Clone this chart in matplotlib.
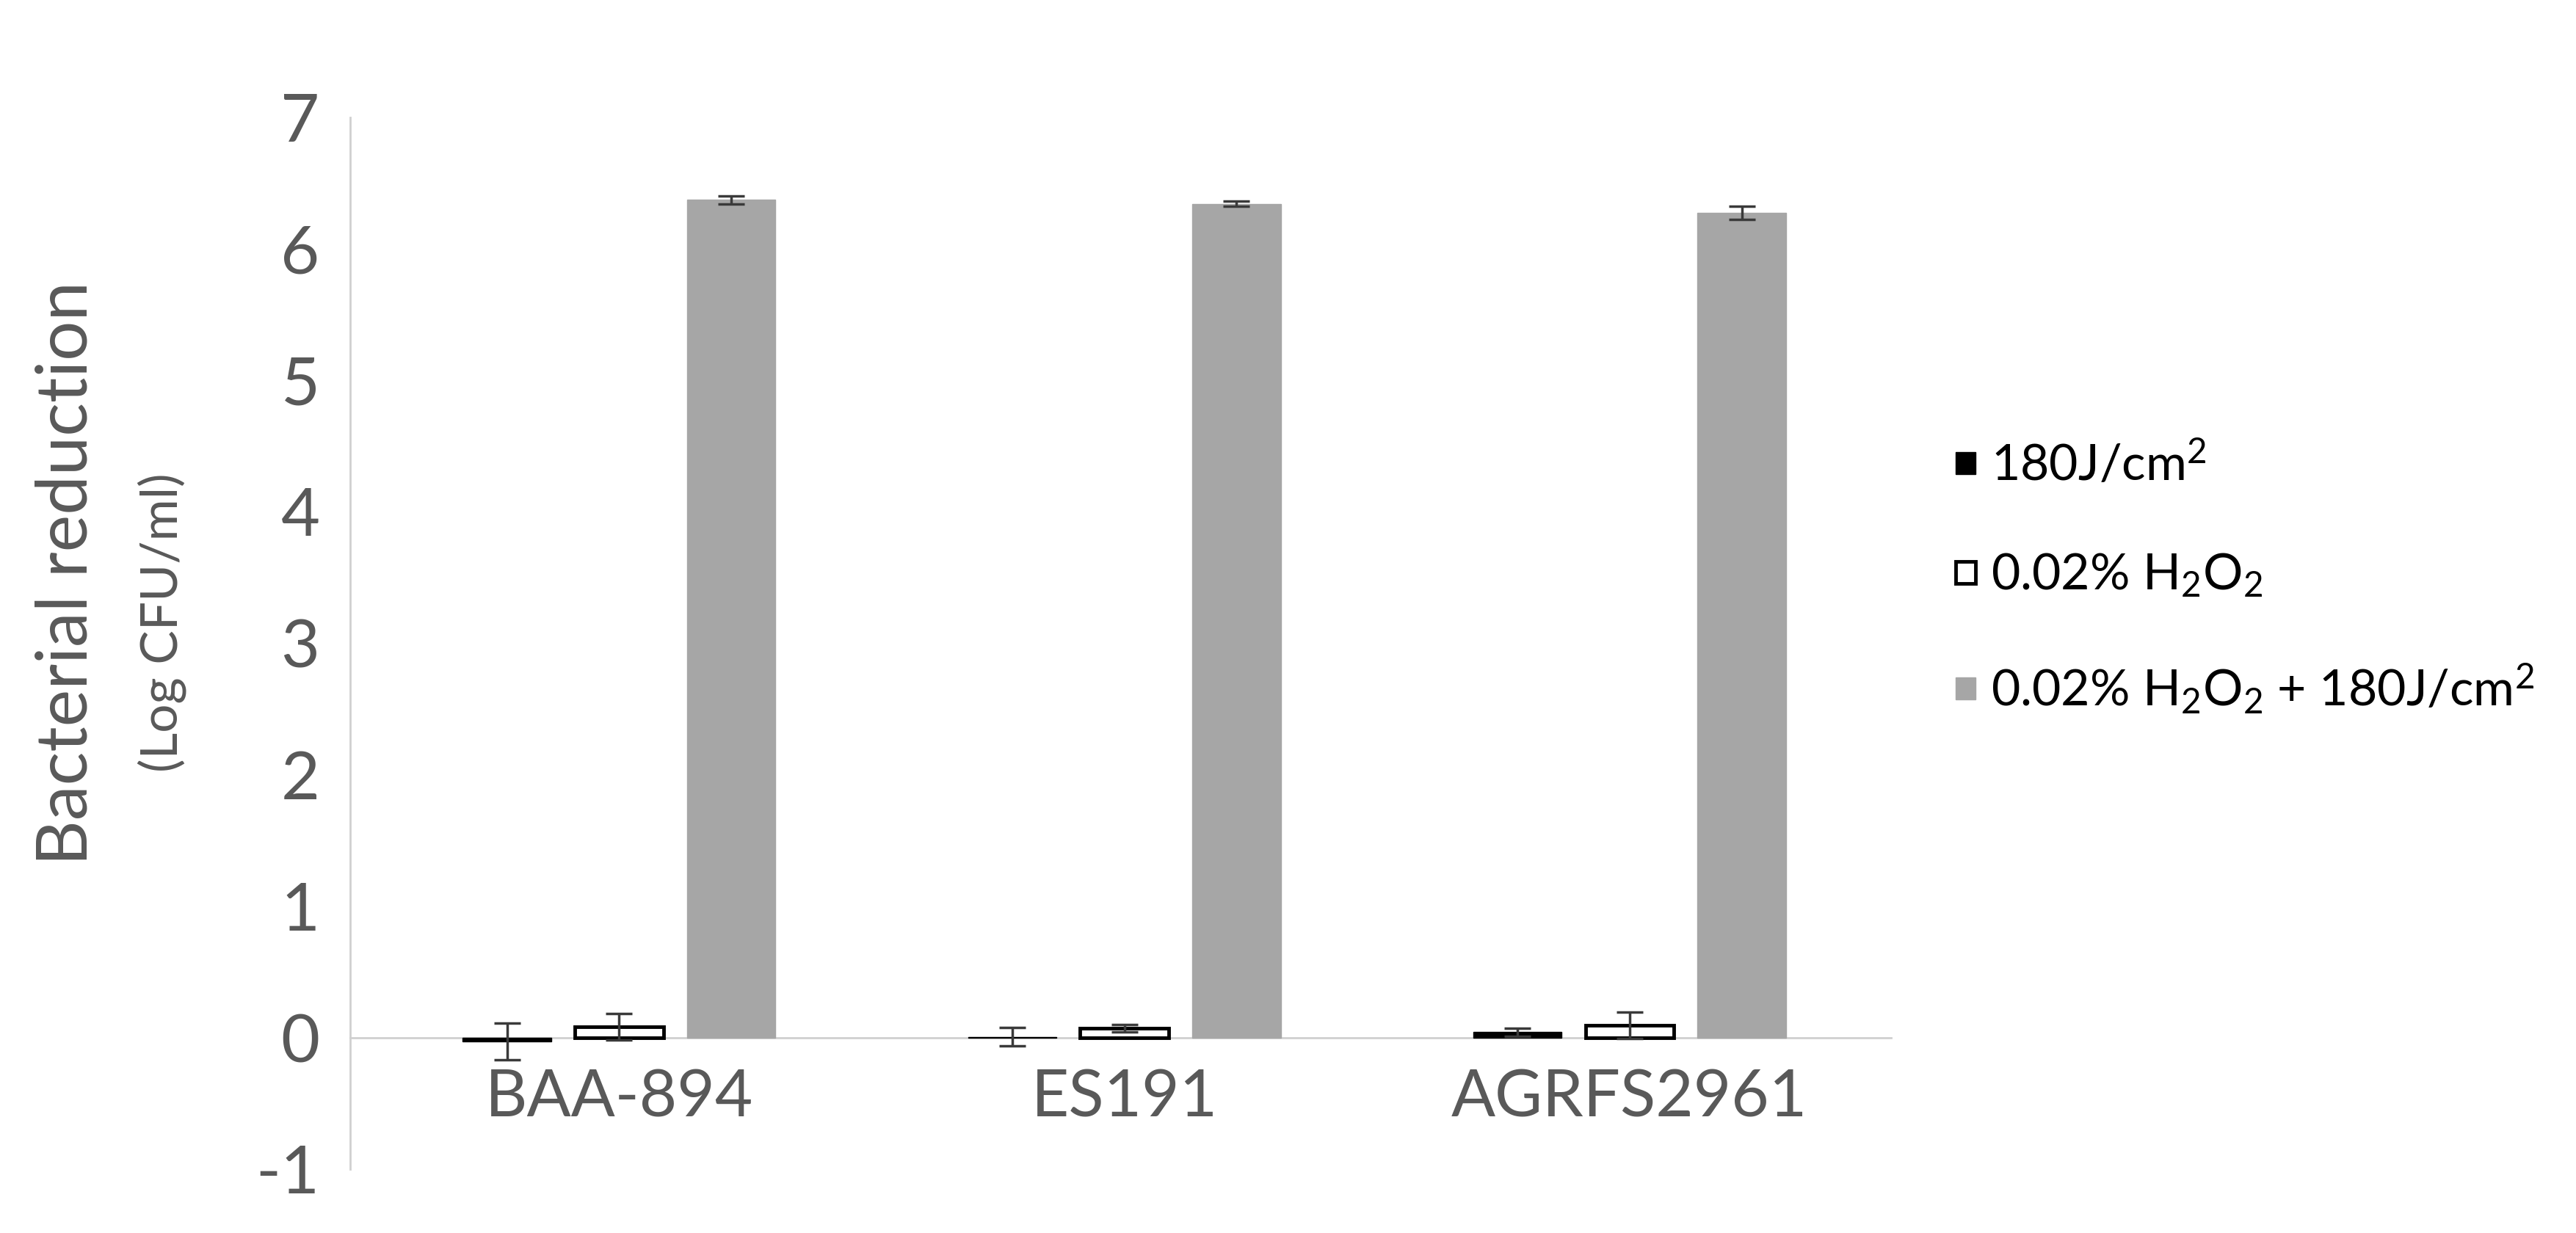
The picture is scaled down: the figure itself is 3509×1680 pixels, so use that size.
import matplotlib
matplotlib.use("Agg")
import matplotlib.pyplot as plt
import numpy as np

# ---- data ----
categories = ["BAA-894", "ES191", "AGRFS2961"]
series_labels = ["180J/cm$^2$", "0.02% H$_2$O$_2$", "0.02% H$_2$O$_2$ + 180J/cm$^2$"]
uv_only = [-0.03, 0.005, 0.04]
uv_only_err = [0.14, 0.07, 0.03]
h2o2_only = [0.08, 0.07, 0.09]
h2o2_only_err = [0.10, 0.03, 0.10]
combined = [6.37, 6.34, 6.27]
combined_err = [0.03, 0.02, 0.05]
yticks = [-1, 0, 1, 2, 3, 4, 5, 6, 7]

plt.rcParams['font.family'] = ['Lato', 'DejaVu Sans']
plt.rcParams['mathtext.fontset'] = 'custom'
plt.rcParams['mathtext.rm'] = 'Lato'
plt.rcParams['mathtext.it'] = 'Lato'
plt.rcParams['mathtext.bf'] = 'Lato'

txt = '#595959'
fig = plt.figure(figsize=(35.09, 16.80), dpi=100)
ax = fig.add_axes([0.136, 0.052, 0.598, 0.853])

x = np.arange(len(categories))
w = 0.175
off = 0.222
ekw = dict(ecolor='#3a3a3a', elinewidth=2.5, capsize=13, capthick=2.5)
b1 = ax.bar(x - off, uv_only, w, color='black', edgecolor='black', linewidth=1,
            yerr=uv_only_err, error_kw=ekw, label=series_labels[0], zorder=3)
b2 = ax.bar(x, h2o2_only, w, color='white', edgecolor='black', linewidth=3.5,
            yerr=h2o2_only_err, error_kw=ekw, label=series_labels[1], zorder=3)
b3 = ax.bar(x + off, combined, w, color='#a6a6a6', edgecolor='#a6a6a6', linewidth=1,
            yerr=combined_err, error_kw=ekw, label=series_labels[2], zorder=3)

ax.set_xlim(-0.532, 2.517)
ax.set_ylim(-1, 7)
ax.set_yticks(yticks)
ax.set_yticklabels([str(t) for t in yticks])
ax.set_xticks(x)
ax.set_xticklabels(categories)

for s in ['top', 'right']:
    ax.spines[s].set_visible(False)
ax.spines['bottom'].set_position(('data', 0))
ax.spines['bottom'].set_color('#d0d0d0')
ax.spines['bottom'].set_linewidth(2)
ax.spines['left'].set_color('#d0d0d0')
ax.spines['left'].set_linewidth(2)
ax.spines['bottom'].set_zorder(1)

ax.tick_params(axis='y', length=0, pad=30, labelsize=66, labelcolor=txt)
ax.tick_params(axis='x', length=0, pad=30, labelsize=64, labelcolor=txt)

fig.text(0.026, 0.535, "Bacterial reduction", rotation=90, ha='center', va='center',
         fontsize=69, color=txt)
fig.text(0.063, 0.495, "(Log CFU/ml)", rotation=90, ha='center', va='center',
         fontsize=50, color=txt)

leg = fig.legend(handles=[b1, b2, b3], labels=series_labels, loc='center left',
                 bbox_to_anchor=(0.7495, 0.531), frameon=False, fontsize=49,
                 handlelength=0.4, handleheight=0.3, handletextpad=0.3,
                 labelspacing=1.25, borderpad=0)
for t in leg.get_texts():
    t.set_color('black')

fig.savefig("out.png", dpi=100, facecolor='white')
